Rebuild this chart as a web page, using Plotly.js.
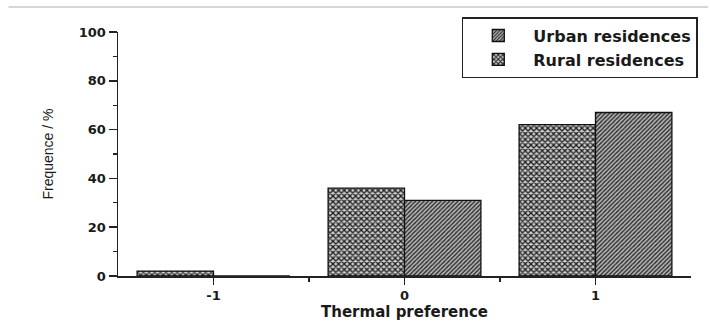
<!DOCTYPE html>
<html>
<head>
<meta charset="utf-8">
<script src="https://cdn.plot.ly/plotly-3.0.1.min.js"></script>
<style>html,body{margin:0;padding:0;background:#fff;}#chart{width:710px;height:322px;}</style>
</head>
<body>
<div id="chart"></div>
<script>
const categories = [-1, 0, 1];
const tickLabels = ["-1", "0", "1"];
const ruralValues = [2, 36, 62];
const urbanValues = [0, 31, 67];
const seriesNames = ["Urban residences", "Rural residences"];

const rural = {
  type: "bar", x: categories, y: ruralValues, name: seriesNames[1],
  marker: {
    color: "#b0b0b0",
    line: {color: "#111", width: 1.3},
    pattern: {shape: "x", fgcolor: "#1e1e1e", bgcolor: "#cdcdcd", size: 4, solidity: 0.55}
  }
};
const urban = {
  type: "bar", x: categories, y: urbanValues, name: seriesNames[0],
  marker: {
    color: "#b0b0b0",
    line: {color: "#111", width: 1.3},
    pattern: {shape: "/", fgcolor: "#2a2a2a", bgcolor: "#b8b8b8", size: 3, solidity: 0.45}
  }
};

const boldFont = "DejaVu Sans, Liberation Sans, Arial, sans-serif";

const layout = {
  width: 710, height: 322,
  margin: {l: 118, r: 17, t: 32, b: 46},
  paper_bgcolor: "#fff", plot_bgcolor: "#fff",
  barmode: "group", bargap: 0.2, bargroupgap: 0,
  font: {family: boldFont, color: "#1a1a1a"},
  showlegend: true,
  legend: {
    x: 0.6, y: 1.061, xanchor: "left", yanchor: "top",
    traceorder: "reversed",
    bordercolor: "#222", borderwidth: 1.5, bgcolor: "#fff",
    font: {size: 16, family: boldFont, color: "#1a1a1a", weight: "bold"},
    tracegroupgap: 0, itemwidth: 60
  },
  xaxis: {
    range: [-1.5, 1.5], tickvals: categories, ticktext: tickLabels,
    showline: true, linecolor: "#222", linewidth: 1.5,
    ticks: "outside", ticklen: 7, tickwidth: 1.5, tickcolor: "#222",
    minor: {tickvals: [-0.5, 0.5], ticks: "outside", ticklen: 4, tickwidth: 1.2, tickcolor: "#222"},
    showgrid: false, zeroline: false,
    tickfont: {size: 13, family: boldFont, weight: "bold", color: "#1a1a1a"},
    title: {text: "Thermal preference", font: {size: 15, family: boldFont, weight: "bold", color: "#1a1a1a"}, standoff: 4}
  },
  yaxis: {
    range: [0, 100], tickvals: [0, 20, 40, 60, 80, 100],
    showline: true, linecolor: "#222", linewidth: 1.5,
    ticks: "outside", ticklen: 8, tickwidth: 1.5, tickcolor: "#222",
    minor: {tickvals: [10, 30, 50, 70, 90], ticks: "outside", ticklen: 4, tickwidth: 1.2, tickcolor: "#222"},
    showgrid: false, zeroline: false,
    tickfont: {size: 13, family: boldFont, weight: "bold", color: "#1a1a1a"},
    title: {text: "Frequence / %", font: {size: 14, family: "Liberation Sans Narrow, Arial Narrow, Liberation Sans, Arial, sans-serif", color: "#1a1a1a"}, standoff: 22}
  },
  shapes: [{
    type: "line", xref: "paper", yref: "paper",
    x0: -0.191, x1: 1.03, y0: 1.1025, y1: 1.1025,
    line: {color: "#c8c8c8", width: 1.5}
  }]
};

Plotly.newPlot("chart", [rural, urban], layout, {displayModeBar: false, staticPlot: true});
</script>
</body>
</html>
